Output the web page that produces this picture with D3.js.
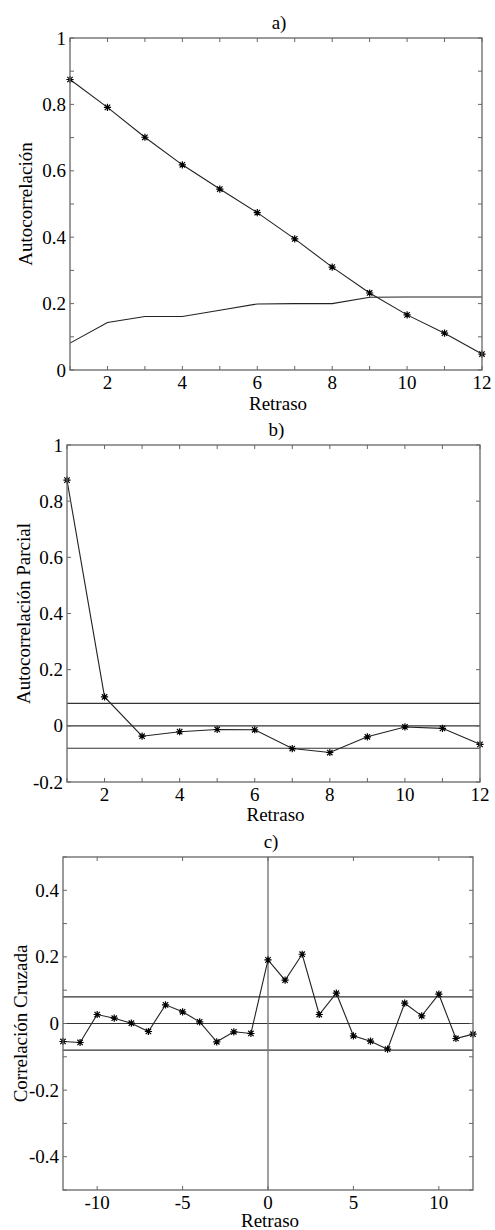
<!DOCTYPE html>
<html><head><meta charset="utf-8">
<script src="https://cdn.jsdelivr.net/npm/d3@7"></script>
</head><body style="margin:0">
<svg id="c" width="495" height="1230"></svg>
<script>
// Panel a: autocorrelation
const lagsA = [1,2,3,4,5,6,7,8,9,10,11,12];
const acf = [0.875,0.791,0.701,0.618,0.545,0.474,0.395,0.310,0.232,0.166,0.111,0.048];
const acfBand = [0.081,0.143,0.161,0.161,0.180,0.199,0.200,0.200,0.219,0.220,0.220,0.220];
// Panel b: partial autocorrelation
const lagsB = [1,2,3,4,5,6,7,8,9,10,11,12];
const pacf = [0.875,0.103,-0.037,-0.021,-0.013,-0.014,-0.081,-0.095,-0.039,-0.004,-0.009,-0.066];
const pacfBounds = [0.08,0,-0.08];
// Panel c: cross correlation
const lagsC = [-12,-11,-10,-9,-8,-7,-6,-5,-4,-3,-2,-1,0,1,2,3,4,5,6,7,8,9,10,11,12];
const ccf = [-0.054,-0.057,0.027,0.016,0.001,-0.024,0.056,0.035,0.005,-0.055,-0.025,-0.030,0.191,0.130,0.208,0.027,0.091,-0.037,-0.053,-0.077,0.061,0.023,0.088,-0.045,-0.032];
const ccfBounds = [0.08,0,-0.08];
// ticks
const xTicksAB = [1,2,3,4,5,6,7,8,9,10,11,12];
const xLabelsAB = ["2","4","6","8","10","12"];
const yTicksA = [0,0.1,0.2,0.3,0.4,0.5,0.6,0.7,0.8,0.9,1];
const yLabelsA = ["0","0.2","0.4","0.6","0.8","1"];
const yTicksB = [-0.2,0,0.2,0.4,0.6,0.8,1];
const yLabelsB = ["-0.2","0","0.2","0.4","0.6","0.8","1"];
const xTicksC = [-10,-5,0,5,10];
const xLabelsC = ["-10","-5","0","5","10"];
const yTicksC = [-0.5,-0.4,-0.3,-0.2,-0.1,0,0.1,0.2,0.3,0.4,0.5];
const yLabelsC = ["-0.4","-0.2","0","0.2","0.4"];

const svg = d3.select("#c");
const BASE = 24, FS = 19, SC = FS/BASE;

function txt(g, x, y, s, anchor, rot){
  return g.append("text")
    .attr("transform",`translate(${x},${y})${rot?` rotate(${rot})`:""} scale(${SC})`)
    .attr("text-anchor",anchor||"middle")
    .attr("font-size",BASE).style("font-family",'"Liberation Serif"').text(s);
}

function star(g, x, y){
  const r = 3.6;
  const p = d3.path();
  p.moveTo(x-r,y); p.lineTo(x+r,y);
  p.moveTo(x,y-r); p.lineTo(x,y+r);
  const d = r*0.75;
  p.moveTo(x-d,y-d); p.lineTo(x+d,y+d);
  p.moveTo(x-d,y+d); p.lineTo(x+d,y-d);
  g.append("path").attr("d",p.toString()).attr("stroke","#000").attr("stroke-width",1.2).attr("fill","none");
}

function panel(o){
  const g = svg.append("g");
  const x = d3.scaleLinear().domain(o.xd).range([o.l,o.r]);
  const y = d3.scaleLinear().domain(o.yd).range([o.b,o.t]);
  const tl = 4;
  const axisCol = "#666";
  (o.hlines||[]).forEach(v=>{
    g.append("line").attr("x1",o.l).attr("x2",o.r).attr("y1",y(v)).attr("y2",y(v)).attr("stroke","#333").attr("stroke-width",1.1);
  });
  if(o.vline!==undefined){
    g.append("line").attr("x1",x(o.vline)).attr("x2",x(o.vline)).attr("y1",o.t).attr("y2",o.b).attr("stroke","#777").attr("stroke-width",1.4);
  }
  if(o.band){
    const bl = d3.line().x((d,i)=>x(o.xs[i])).y(d=>y(d));
    g.append("path").datum(o.band).attr("d",bl).attr("stroke","#222").attr("stroke-width",1.1).attr("fill","none");
  }
  const line = d3.line().x((d,i)=>x(o.xs[i])).y(d=>y(d));
  g.append("path").datum(o.ys).attr("d",line).attr("stroke","#222").attr("stroke-width",1.1).attr("fill","none");
  o.ys.forEach((v,i)=>star(g,x(o.xs[i]),y(v)));
  g.append("rect").attr("x",o.l).attr("y",o.t).attr("width",o.r-o.l).attr("height",o.b-o.t).attr("fill","none").attr("stroke",axisCol).attr("stroke-width",1.3);
  o.xt.forEach(v=>{
    const xx = x(v);
    g.append("line").attr("x1",xx).attr("x2",xx).attr("y1",o.b).attr("y2",o.b-tl).attr("stroke",axisCol);
    g.append("line").attr("x1",xx).attr("x2",xx).attr("y1",o.t).attr("y2",o.t+tl).attr("stroke",axisCol);
  });
  o.yt.forEach(v=>{
    const yy = y(v);
    g.append("line").attr("x1",o.l).attr("x2",o.l+tl).attr("y1",yy).attr("y2",yy).attr("stroke",axisCol);
    g.append("line").attr("x1",o.r).attr("x2",o.r-tl).attr("y1",yy).attr("y2",yy).attr("stroke",axisCol);
  });
  o.xl.forEach(s=> txt(g, x(+s), o.b+18.5, s));
  o.yl.forEach(s=> txt(g, o.l-4, y(+s)+6.5, s, "end"));
  txt(g, (o.l+o.r)/2+3, o.t-9, o.title);
  txt(g, (o.l+o.r)/2+2, o.b+o.xlo, "Retraso");
  txt(g, o.yx, (o.t+o.b)/2, o.ylab, "middle", -90);
}

panel({l:70,r:482,t:38,b:370,xd:[1,12],yd:[0,1],xs:lagsA,ys:acf,band:acfBand,
  xt:xTicksAB,xl:xLabelsAB,yt:yTicksA,yl:yLabelsA,title:"a)",ylab:"Autocorrelación",yx:32,xlo:40});
panel({l:67,r:480,t:445,b:782,xd:[1,12],yd:[-0.2,1],xs:lagsB,ys:pacf,hlines:pacfBounds,
  xt:xTicksAB,xl:xLabelsAB,yt:yTicksB,yl:yLabelsB,title:"b)",ylab:"Autocorrelación Parcial",yx:30,xlo:39});
panel({l:63,r:473,t:857,b:1190,xd:[-12,12],yd:[-0.5,0.5],xs:lagsC,ys:ccf,hlines:ccfBounds,vline:0,
  xt:xTicksC,xl:xLabelsC,yt:yTicksC,yl:yLabelsC,title:"c)",ylab:"Correlación Cruzada",yx:27,xlo:36.5});
</script></body></html>
